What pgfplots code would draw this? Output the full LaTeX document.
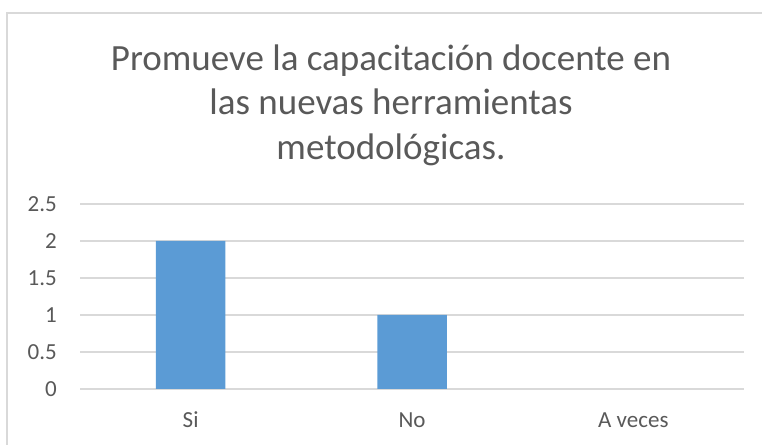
\documentclass[border=0pt]{standalone}
\usepackage{pgfplots}
\pgfplotsset{compat=1.18}
\usepackage{fontspec}
\setmainfont{Carlito}
\definecolor{barblue}{HTML}{5B9BD5}
\definecolor{txtgray}{HTML}{595959}
\definecolor{gridgray}{HTML}{D9D9D9}
\begin{document}
\begin{tikzpicture}[x=1bp,y=1bp]
\path[use as bounding box] (0,0) rectangle (762,445);
\draw[gridgray, line width=1.2bp] (7,0) -- (7,432) -- (762,432);
\node[anchor=base, text=txtgray, font=\fontsize{37bp}{44bp}\selectfont, inner sep=0] at (391,374.3) {Promueve la capacitación docente en};
\node[anchor=base, text=txtgray, font=\fontsize{37bp}{44bp}\selectfont, inner sep=0] at (391,330) {las nuevas herramientas};
\node[anchor=base, text=txtgray, font=\fontsize{37bp}{44bp}\selectfont, inner sep=0] at (391,285) {metodológicas.};
\begin{axis}[
  at={(80bp,56bp)}, anchor=south west,
  scale only axis, width=664bp, height=185bp,
  xmin=-0.5, xmax=2.5, ymin=0, ymax=2.5,
  ytick={0,0.5,1,1.5,2,2.5},
  yticklabels={0,0.5,1,1.5,2,2.5},
  xtick={0,1,2}, xticklabels={Si,No,A veces},
  ymajorgrids, grid style={gridgray, line width=1.3bp},
  axis line style={draw=none},
  major tick length=0pt,
  ticklabel style={text=txtgray, font=\fontsize{23bp}{27bp}\selectfont, inner sep=0pt},
  yticklabel style={anchor=east, xshift=-23bp},
  xticklabel style={anchor=base, yshift=-39bp},
  ybar, bar width=69.5bp,
  clip=false,
]
% A veces = 0 (no visible bar)
\addplot[fill=barblue, draw=none] coordinates {(0,2) (1,1)};
\end{axis}
\end{tikzpicture}
\end{document}
